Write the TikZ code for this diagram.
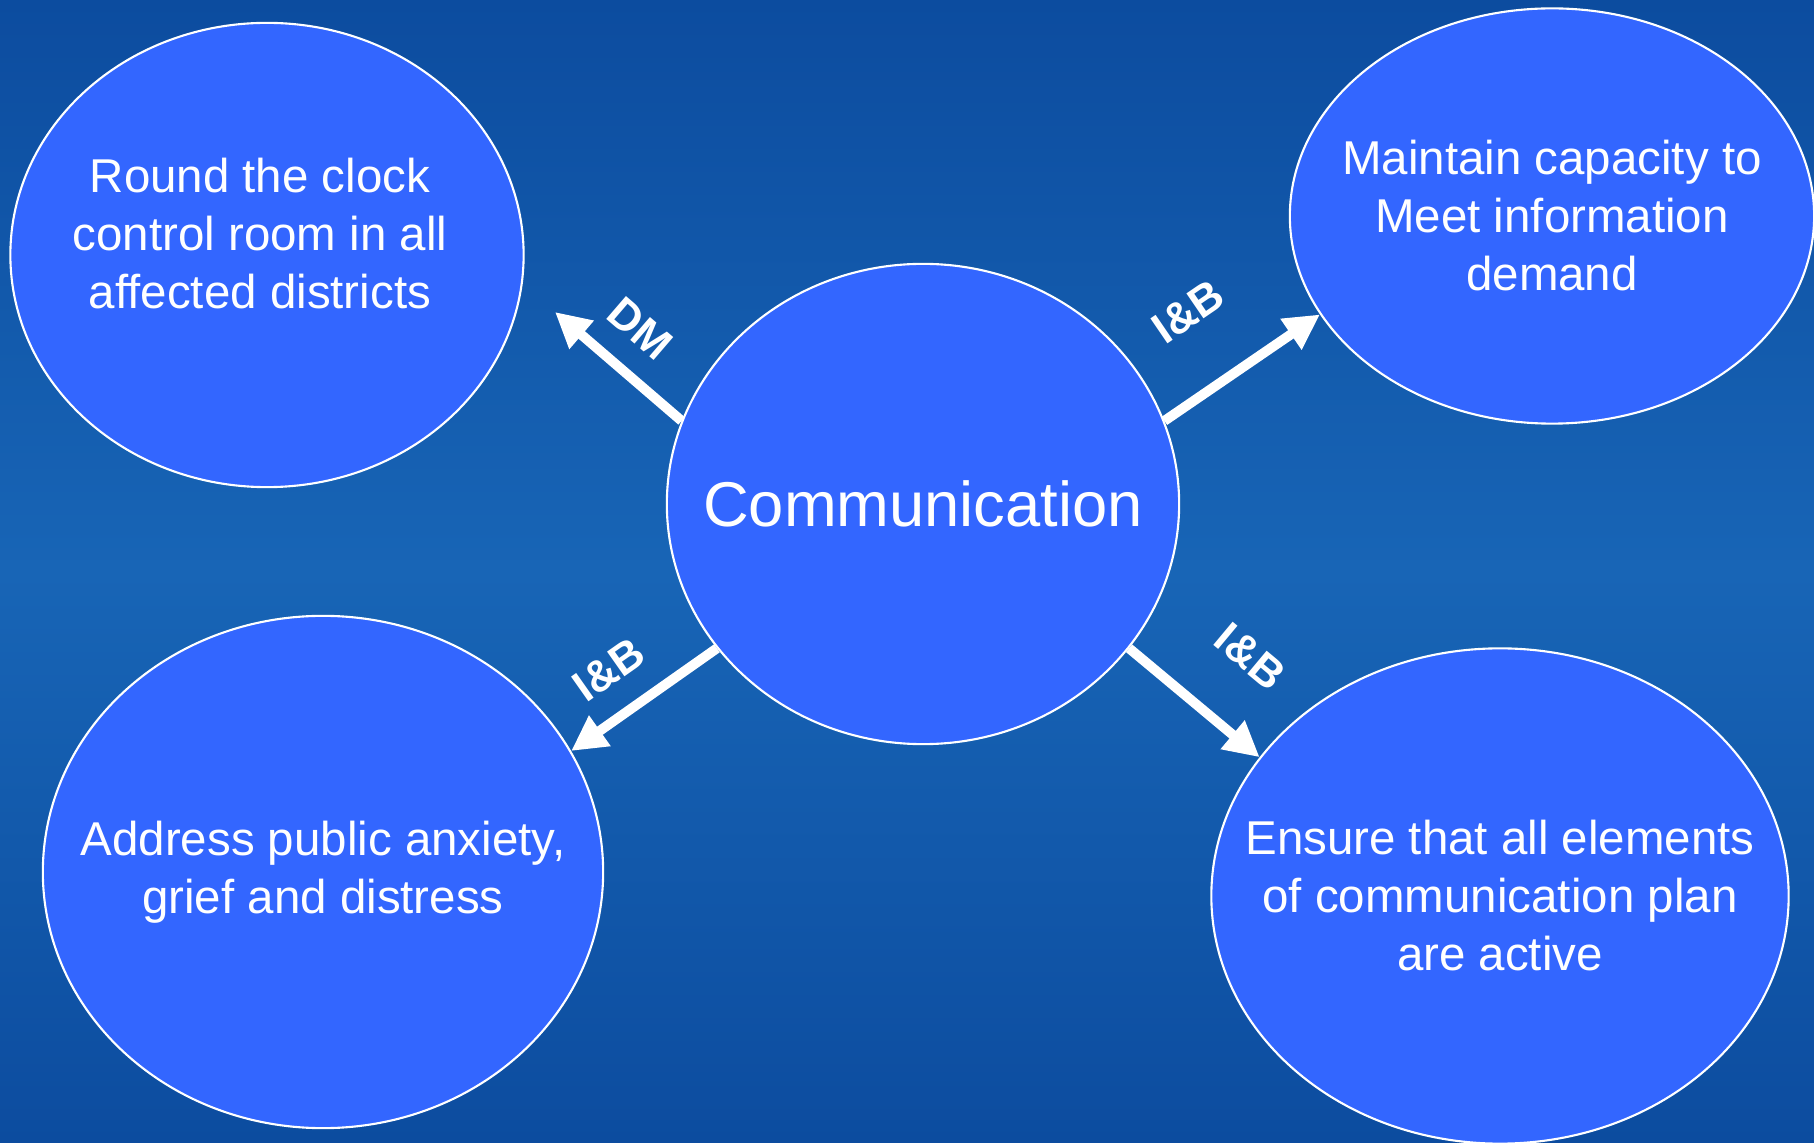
\documentclass[tikz,border=0pt]{standalone}
\usepackage{fontspec}
\setmainfont{Liberation Sans}
\usetikzlibrary{arrows.meta,shapes.geometric}

\definecolor{bgdark}{HTML}{0C4C9F}
\definecolor{bglight}{HTML}{1865B6}
\definecolor{bubblefill}{HTML}{3366FF}

\begin{document}
\begin{tikzpicture}[x=0.01cm, y=-0.01cm,
        bubble/.style={ellipse, draw=white, line width=0.6pt, fill=bubblefill,
            inner sep=0pt},
        txt/.style={text=white, align=center, inner sep=0pt,
            font=\fontsize{13.5}{16.5}\selectfont},
        link/.style={draw=white, line width=2.8pt,
            -{Triangle[length=10pt,width=10pt]}},
        tag/.style={text=white, inner sep=0pt, sloped,
            font=\fontsize{12.5}{13}\selectfont\bfseries}]
    \fill[top color=bgdark, bottom color=bgdark, middle color=bglight]
        (0,0) rectangle (1814,1143);
    \useasboundingbox (0,0) rectangle (1814,1143);

\node[bubble, minimum width=5.12cm, minimum height=4.80cm,
    label={[txt, font=\fontsize{18}{21}\selectfont]center:Communication}]
    (comm) at (923,504) {};

\node[bubble, minimum width=5.13cm, minimum height=4.64cm,
    label={[txt, yshift=0.21cm, xshift=-0.07cm]center:{Round the clock\\control room in all\\affected districts}}]
    (clock) at (267,255) {};
\node[bubble, minimum width=5.24cm, minimum height=4.15cm,
    label={[txt]center:{Maintain capacity to\\Meet information\\demand}}]
    (demand) at (1552,216) {};
\node[bubble, minimum width=5.60cm, minimum height=5.12cm,
    label={[txt]center:{Address public anxiety,\\grief and distress}}]
    (anxiety) at (323,872) {};
\node[bubble, minimum width=5.77cm, minimum height=4.95cm,
    label={[txt]center:{Ensure that all elements\\of communication plan\\are active}}]
    (plan) at (1500,896) {};

\coordinate (dmtip) at (555,312);

\draw[link] (comm.161) -- node[tag, pos=0.55, above=6.5pt] (dm) {DM} (dmtip);
\draw[link] (comm.19) -- node[tag, pos=0.43, above=16pt] (ib1) {I\&B} (demand.203);
\draw[link] (comm.215) -- node[tag, pos=0.565, above=7pt] (ib2) {I\&B} (anxiety.26);
\draw[link] (comm.-35) -- node[tag, pos=0.58, above=14.5pt] (ib3) {I\&B} (plan.150);

\end{tikzpicture}
\end{document}
